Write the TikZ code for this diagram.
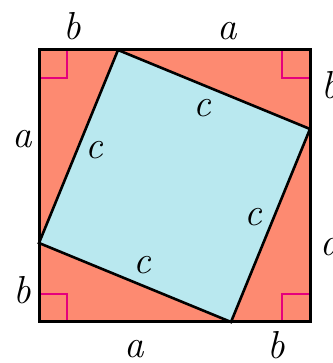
\documentclass[tikz,border=0pt]{standalone}
\usepackage{fontspec}
\definecolor{salmon}{HTML}{FD8A71}
\definecolor{paleblue}{HTML}{B9E8EF}
\definecolor{mark}{HTML}{E5007D}
\tikzset{
  lbl/.style={inner sep=0pt, font=\fontsize{39}{44}\selectfont\itshape},
  edge/.style={line width=3pt, line join=miter},
  rightmark/.style={draw=mark, line width=2.2pt}
}
\begin{document}
\begin{tikzpicture}[x=1pt,y=1pt]
\useasboundingbox (0,0) rectangle (332,363);
\coordinate (BL) at (39,41);
\coordinate (BR) at (310,41);
\coordinate (TR) at (310,313);
\coordinate (TL) at (39,313);
\coordinate (P1) at (118,313);
\coordinate (P2) at (310,234);
\coordinate (P3) at (231,41);
\coordinate (P4) at (39,120);
\fill[salmon] (BL) rectangle (TR);
\fill[paleblue] (P1) -- (P2) -- (P3) -- (P4) -- cycle;
\draw[rightmark] (39,285) -- (67,285) -- (67,313);
\draw[rightmark] (282,313) -- (282,285) -- (310,285);
\draw[rightmark] (39,69) -- (67,69) -- (67,41);
\draw[rightmark] (282,41) -- (282,69) -- (310,69);
\draw[edge, line width=2.6pt] (P1) -- (P2) -- (P3) -- (P4) -- cycle;
\draw[edge] (BL) rectangle (TR);
\node[lbl] (tb) at (72,337) {b};
\node[lbl] (ta) at (227,332) {a};
\node[lbl] (rb) at (330,278) {b};
\node[lbl] (ra) at (330,116) {a};
\node[lbl] (la) at (22,224) {a};
\node[lbl] (lb) at (22,73) {b};
\node[lbl] (ba) at (134,14) {a};
\node[lbl] (bb) at (276,18) {b};
\node[lbl] (c1) at (202,255) {c};
\node[lbl] (c2) at (94,213) {c};
\node[lbl] (c3) at (253,146) {c};
\node[lbl] (c4) at (142,98) {c};
\end{tikzpicture}
\end{document}
